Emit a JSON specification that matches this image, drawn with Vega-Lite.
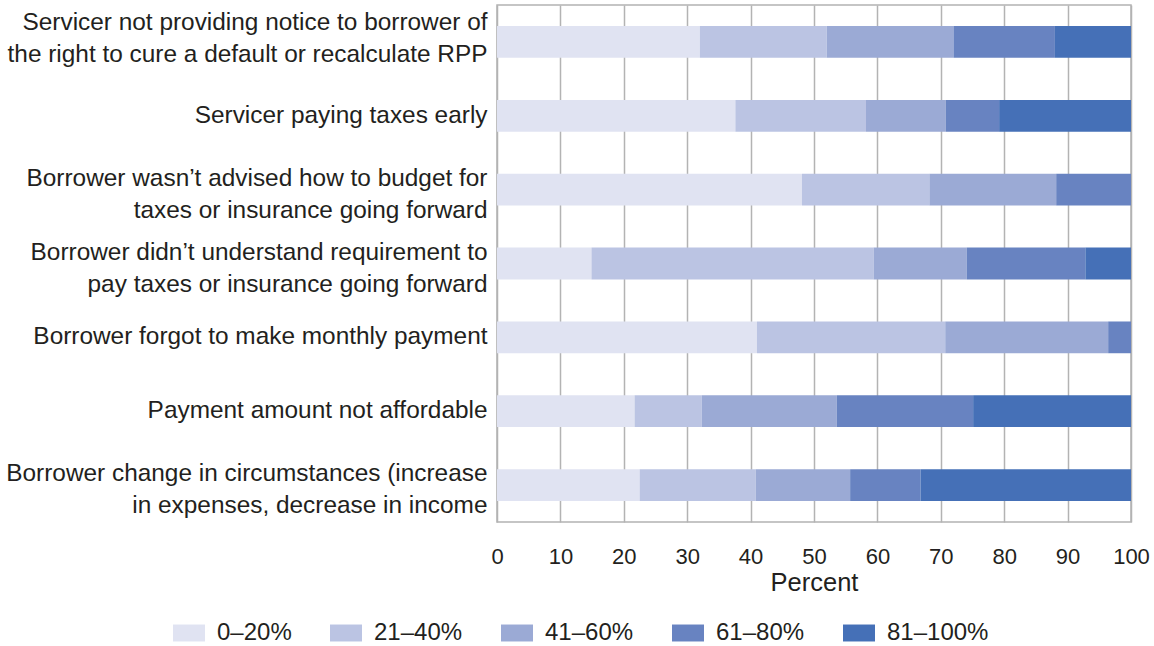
{
  "$schema": "https://vega.github.io/schema/vega-lite/v6.json",
  "width": 634,
  "height": 517,
  "autosize": {"type": "none"},
  "padding": {"left": 497, "top": 5, "right": 23, "bottom": 124},
  "background": "white",
  "config": {
    "font": "Liberation Sans",
    "view": {"stroke": "#b3b3b3", "strokeWidth": 1.5},
    "axis": {"labelColor": "#231f20", "titleColor": "#231f20", "titleFontWeight": "normal"}
  },
  "data": {
    "values": [
      {"reason": "Servicer not providing notice to borrower of|the right to cure a default or recalculate RPP", "range": "0–20%", "pct": 32},
      {"reason": "Servicer not providing notice to borrower of|the right to cure a default or recalculate RPP", "range": "21–40%", "pct": 20},
      {"reason": "Servicer not providing notice to borrower of|the right to cure a default or recalculate RPP", "range": "41–60%", "pct": 20},
      {"reason": "Servicer not providing notice to borrower of|the right to cure a default or recalculate RPP", "range": "61–80%", "pct": 16},
      {"reason": "Servicer not providing notice to borrower of|the right to cure a default or recalculate RPP", "range": "81–100%", "pct": 12},
      {"reason": "Servicer paying taxes early", "range": "0–20%", "pct": 37.6},
      {"reason": "Servicer paying taxes early", "range": "21–40%", "pct": 20.6},
      {"reason": "Servicer paying taxes early", "range": "41–60%", "pct": 12.6},
      {"reason": "Servicer paying taxes early", "range": "61–80%", "pct": 8.4},
      {"reason": "Servicer paying taxes early", "range": "81–100%", "pct": 20.8},
      {"reason": "Borrower wasn’t advised how to budget for|taxes or insurance going forward", "range": "0–20%", "pct": 48.1},
      {"reason": "Borrower wasn’t advised how to budget for|taxes or insurance going forward", "range": "21–40%", "pct": 20.1},
      {"reason": "Borrower wasn’t advised how to budget for|taxes or insurance going forward", "range": "41–60%", "pct": 20.0},
      {"reason": "Borrower wasn’t advised how to budget for|taxes or insurance going forward", "range": "61–80%", "pct": 11.8},
      {"reason": "Borrower wasn’t advised how to budget for|taxes or insurance going forward", "range": "81–100%", "pct": 0},
      {"reason": "Borrower didn’t understand requirement to|pay taxes or insurance going forward", "range": "0–20%", "pct": 14.9},
      {"reason": "Borrower didn’t understand requirement to|pay taxes or insurance going forward", "range": "21–40%", "pct": 44.5},
      {"reason": "Borrower didn’t understand requirement to|pay taxes or insurance going forward", "range": "41–60%", "pct": 14.7},
      {"reason": "Borrower didn’t understand requirement to|pay taxes or insurance going forward", "range": "61–80%", "pct": 18.7},
      {"reason": "Borrower didn’t understand requirement to|pay taxes or insurance going forward", "range": "81–100%", "pct": 7.2},
      {"reason": "Borrower forgot to make monthly payment", "range": "0–20%", "pct": 41.0},
      {"reason": "Borrower forgot to make monthly payment", "range": "21–40%", "pct": 29.7},
      {"reason": "Borrower forgot to make monthly payment", "range": "41–60%", "pct": 25.7},
      {"reason": "Borrower forgot to make monthly payment", "range": "61–80%", "pct": 3.6},
      {"reason": "Borrower forgot to make monthly payment", "range": "81–100%", "pct": 0},
      {"reason": "Payment amount not affordable", "range": "0–20%", "pct": 21.7},
      {"reason": "Payment amount not affordable", "range": "21–40%", "pct": 10.6},
      {"reason": "Payment amount not affordable", "range": "41–60%", "pct": 21.3},
      {"reason": "Payment amount not affordable", "range": "61–80%", "pct": 21.5},
      {"reason": "Payment amount not affordable", "range": "81–100%", "pct": 24.9},
      {"reason": "Borrower change in circumstances (increase|in expenses, decrease in income", "range": "0–20%", "pct": 22.5},
      {"reason": "Borrower change in circumstances (increase|in expenses, decrease in income", "range": "21–40%", "pct": 18.3},
      {"reason": "Borrower change in circumstances (increase|in expenses, decrease in income", "range": "41–60%", "pct": 14.9},
      {"reason": "Borrower change in circumstances (increase|in expenses, decrease in income", "range": "61–80%", "pct": 11.1},
      {"reason": "Borrower change in circumstances (increase|in expenses, decrease in income", "range": "81–100%", "pct": 33.2}
    ]
  },
  "mark": {"type": "bar"},
  "encoding": {
    "y": {
      "field": "reason",
      "type": "nominal",
      "sort": null,
      "scale": {"paddingInner": 0.57, "paddingOuter": 0.285},
      "axis": {
        "title": null,
        "ticks": false,
        "domain": false,
        "labelFontSize": 24.4,
        "labelPadding": 10,
        "labelLimit": 600,
        "labelLineHeight": 32,
        "labelOffset": {
          "condition": [
            {"test": "indexof(datum.value, 'Servicer not') >= 0", "value": -19},
            {"test": "indexof(datum.value, '|') >= 0", "value": -11}
          ],
          "value": 0
        },
        "labelExpr": "split(datum.value, '|')"
      }
    },
    "x": {
      "field": "pct",
      "type": "quantitative",
      "stack": "zero",
      "scale": {"domain": [0, 100], "nice": false},
      "axis": {
        "title": "Percent",
        "values": [0, 10, 20, 30, 40, 50, 60, 70, 80, 90, 100],
        "ticks": false,
        "domain": false,
        "grid": true,
        "gridColor": "#b3b3b3",
        "gridWidth": 1.5,
        "gridOpacity": 1,
        "labelFontSize": 22,
        "titleFontSize": 25.5,
        "labelPadding": 24,
        "titlePadding": 3,
        "labelFlush": false
      }
    },
    "color": {
      "field": "range",
      "type": "nominal",
      "scale": {
        "domain": ["0–20%", "21–40%", "41–60%", "61–80%", "81–100%"],
        "range": ["#e0e3f2", "#bbc4e3", "#9baad5", "#6883c1", "#4570b7"]
      },
      "legend": {
        "title": null,
        "orient": "none",
        "direction": "horizontal",
        "legendX": -324,
        "legendY": 612,
        "symbolType": "M-1,-0.53L1,-0.53L1,0.53L-1,0.53Z",
        "symbolSize": 1024,
        "symbolStrokeWidth": 0,
        "symbolOpacity": 1,
        "labelFontSize": 24,
        "labelColor": "#231f20",
        "labelOffset": 12,
        "columnPadding": 38
      }
    },
    "order": {"field": "range", "sort": "ascending"}
  }
}
